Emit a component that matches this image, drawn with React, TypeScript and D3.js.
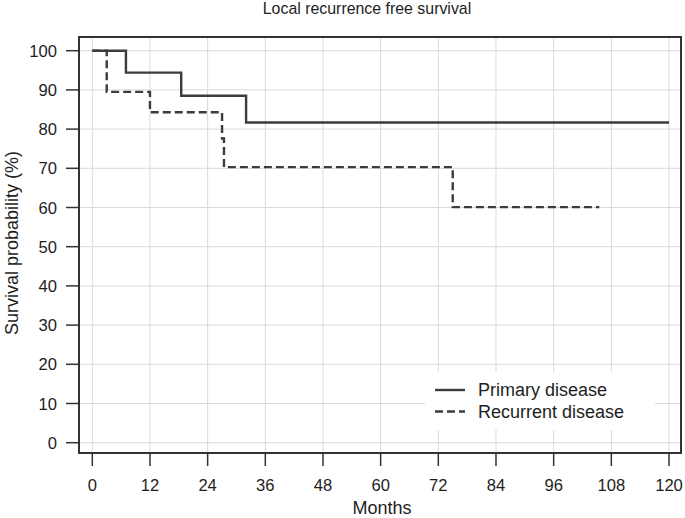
import React from "react";
import * as d3 from "d3";

const xTicks = [0, 12, 24, 36, 48, 60, 72, 84, 96, 108, 120];
const yTicks = [0, 10, 20, 30, 40, 50, 60, 70, 80, 90, 100];

const primaryTimes = [0, 7, 18.5, 32];
const primaryValues = [100, 94.4, 88.5, 81.7];
const primaryEnd = 120;

const recurrentTimes = [0, 3, 12, 27, 27.4, 75];
const recurrentValues = [100, 89.5, 84.3, 77.6, 70.3, 60.1];
const recurrentEnd = 105.5;

const seriesNames = ["Primary disease", "Recurrent disease"];

function stepPoints(times: number[], values: number[], end: number): [number, number][] {
  const pts: [number, number][] = times.map((t, i) => [t, values[i]]);
  pts.push([end, values[values.length - 1]]);
  return pts;
}

export default function App() {
  const W = 685, H = 518;
  const frame = { left: 79, right: 681, top: 37, bottom: 453 };
  const x = d3.scaleLinear().domain([0, 120]).range([92.3, 669]);
  const y = d3.scaleLinear().domain([0, 100]).range([442.7, 50.7]);
  const line = d3.line<[number, number]>().x(d => x(d[0])).y(d => y(d[1])).curve(d3.curveStepAfter);
  const color = "#3c3c3c";
  const textColor = "#1e1e1e";
  const font = "Liberation Sans, Arial, sans-serif";
  const legend = { x: 425, y: 372, w: 230, h: 58 };

  return (
    <svg width={W} height={H} style={{ position: "absolute", left: 0, top: 0 }}>
      <rect width={W} height={H} fill="white" />
      <text x={367} y={14} textAnchor="middle" fontFamily={font} fontSize={15.9} fill={textColor}>Local recurrence free survival</text>
      {/* grid */}
      {xTicks.map(t => (
        <line key={"gx" + t} x1={x(t)} x2={x(t)} y1={frame.top} y2={frame.bottom} stroke="#d9d9d9" strokeWidth={1} />
      ))}
      {yTicks.map(t => (
        <line key={"gy" + t} x1={frame.left} x2={frame.right} y1={y(t)} y2={y(t)} stroke="#d9d9d9" strokeWidth={1} />
      ))}
      {/* legend background */}
      <rect x={legend.x} y={legend.y} width={legend.w} height={legend.h} fill="white" />
      {/* curves */}
      <path d={line(stepPoints(primaryTimes, primaryValues, primaryEnd)) || ""} fill="none" stroke={color} strokeWidth={2.4} />
      <path d={line(stepPoints(recurrentTimes, recurrentValues, recurrentEnd)) || ""} fill="none" stroke={color} strokeWidth={2.4} strokeDasharray="8,4" />
      {/* frame */}
      <rect x={frame.left} y={frame.top} width={frame.right - frame.left} height={frame.bottom - frame.top} fill="none" stroke="#333" strokeWidth={2} />
      {/* y axis ticks */}
      {yTicks.map(t => (
        <g key={"yt" + t}>
          <line x1={66} x2={frame.left} y1={y(t)} y2={y(t)} stroke="#333" strokeWidth={1.5} />
          <text x={57} y={y(t) + 6} textAnchor="end" fontFamily={font} fontSize={16.6} fill={textColor}>{t}</text>
        </g>
      ))}
      {/* x axis ticks */}
      {xTicks.map(t => (
        <g key={"xt" + t}>
          <line x1={x(t)} x2={x(t)} y1={frame.bottom} y2={466} stroke="#333" strokeWidth={1.5} />
          <text x={x(t)} y={490.5} textAnchor="middle" fontFamily={font} fontSize={16.6} fill={textColor}>{t}</text>
        </g>
      ))}
      <text x={382} y={514} textAnchor="middle" fontFamily={font} fontSize={18} fill={textColor}>Months</text>
      <text transform={`translate(17.5,243) rotate(-90)`} textAnchor="middle" fontFamily={font} fontSize={18} fill={textColor}>Survival probability (%)</text>
      {/* legend */}
      {seriesNames.map((n, i) => (
        <g key={n}>
          <line x1={435} x2={465} y1={390 + i * 21.5} y2={390 + i * 21.5} stroke={color} strokeWidth={2.4} strokeDasharray={i === 1 ? "8,4" : undefined} />
          <text x={478} y={396 + i * 21.5} fontFamily={font} fontSize={18} fill={textColor}>{n}</text>
        </g>
      ))}
    </svg>
  );
}
